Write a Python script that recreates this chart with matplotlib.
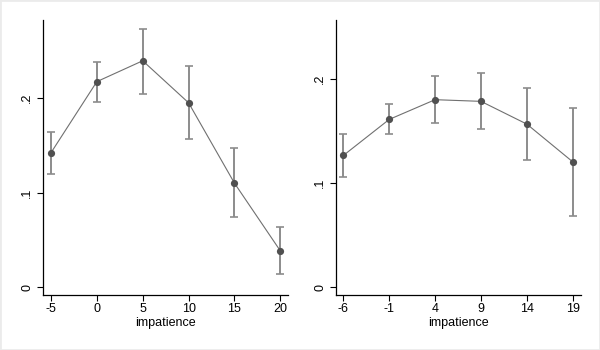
import matplotlib
matplotlib.use("Agg")
import matplotlib.pyplot as plt
from matplotlib.patches import Rectangle

plt.rcParams['font.family'] = ['Liberation Sans', 'DejaVu Sans']

# Left panel
x_left = [-5, 0, 5, 10, 15, 20]
y_left = [0.142, 0.217, 0.239, 0.1947, 0.110, 0.0386]
hi_left = [0.164, 0.238, 0.273, 0.233, 0.147, 0.0633]
lo_left = [0.1195, 0.196, 0.204, 0.1564, 0.0742, 0.0137]

# Right panel
x_right = [-6, -1, 4, 9, 14, 19]
y_right = [0.1266, 0.1613, 0.1803, 0.1787, 0.1568, 0.1205]
hi_right = [0.1469, 0.176, 0.203, 0.206, 0.192, 0.1726]
lo_right = [0.106, 0.1469, 0.1575, 0.152, 0.122, 0.0685]

yticks = [0, 0.1, 0.2]
ytick_labels = ['0', '.1', '.2']
xlabel = 'impatience'

fig = plt.figure(figsize=(6, 3.5), dpi=100)
fig.patches.append(Rectangle((0, 0), 1, 1, transform=fig.transFigure,
                             fill=False, edgecolor='#ebebeb', linewidth=2))

ax1 = fig.add_axes([43/600, 55/350, 245/600, 275/350])
ax2 = fig.add_axes([336/600, 55/350, 244.7/600, 275/350])

panels = [
    (ax1, x_left, y_left, lo_left, hi_left, (-5.87, 20.84), (-0.008, 0.282)),
    (ax2, x_right, y_right, lo_right, hi_right, (-6.8, 19.87), (-0.0077, 0.257)),
]

for ax, xs, ys, lo, hi, xl, yl in panels:
    yerr = [[y - l for y, l in zip(ys, lo)], [h - y for y, h in zip(ys, hi)]]
    ax.errorbar(xs, ys, yerr=yerr, fmt='none', ecolor='#8c8c8c',
                elinewidth=1.4, capsize=3, capthick=1.2, zorder=2)
    ax.plot(xs, ys, color='#707070', linewidth=0.8, zorder=3)
    ax.plot(xs, ys, 'o', color='#505050', markersize=5.2, markeredgewidth=0, zorder=4)
    ax.set_xlim(*xl)
    ax.set_ylim(*yl)
    ax.set_xticks(xs)
    ax.set_xticklabels([str(v) for v in xs])
    ax.set_yticks(yticks)
    ax.set_yticklabels(ytick_labels, rotation=90, va='center')
    ax.set_xlabel(xlabel, fontsize=9, labelpad=1)
    ax.tick_params(axis='both', labelsize=9, length=4, width=0.8, color='black')
    ax.tick_params(axis='y', pad=3)
    ax.tick_params(axis='x', pad=2)
    for s in ['top', 'right']:
        ax.spines[s].set_visible(False)
    for s in ['left', 'bottom']:
        ax.spines[s].set_linewidth(0.9)
    ax.set_facecolor('white')

fig.savefig('out.png', dpi=100, facecolor='white')
